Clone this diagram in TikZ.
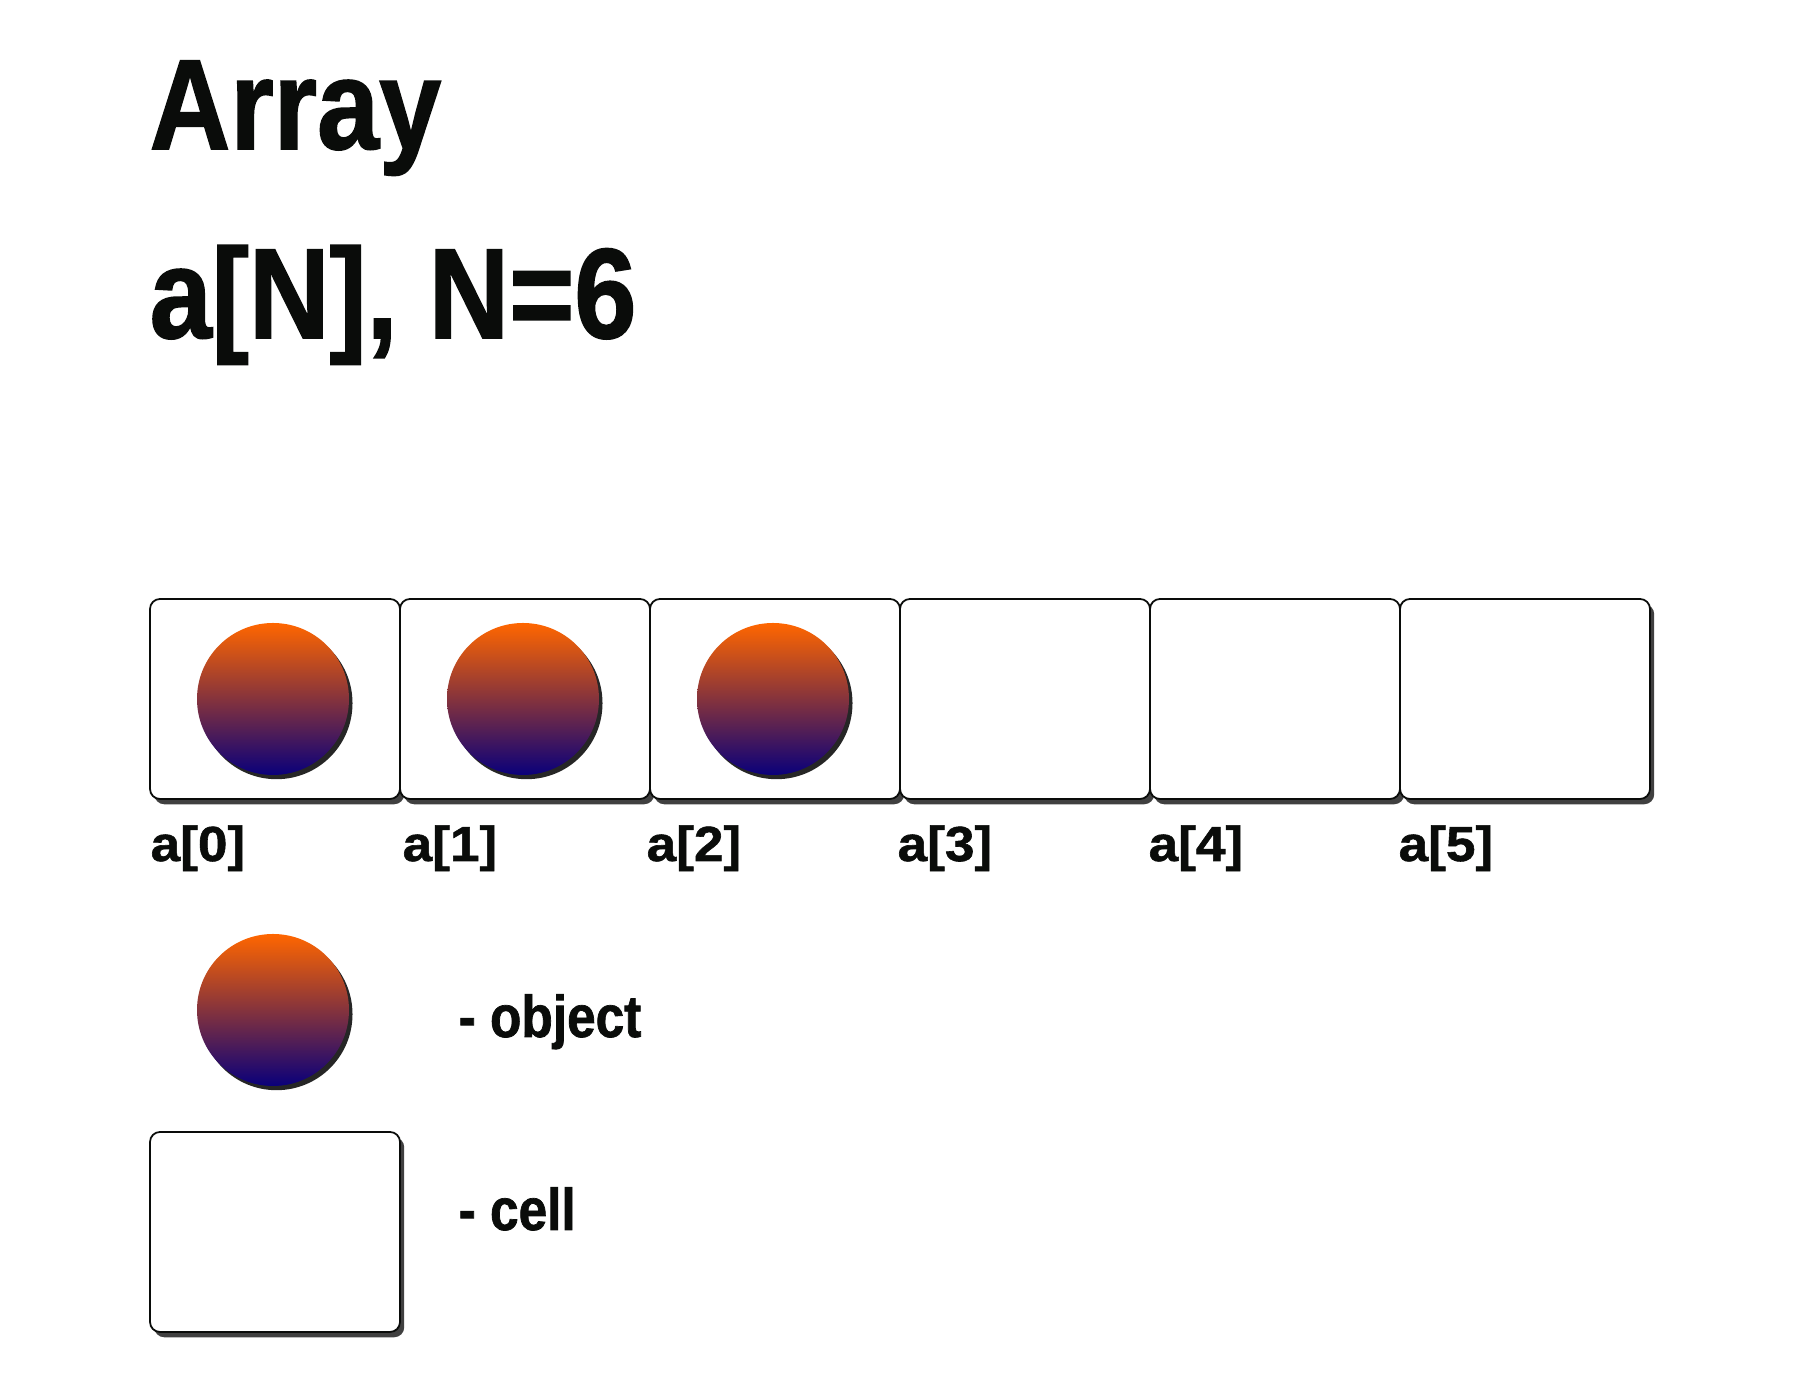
\documentclass[tikz,border=0pt]{standalone}
\usepackage{fontspec}
\usepackage{tikz}
\usetikzlibrary{shadows,positioning}
\newfontfamily\headfont[FakeStretch=0.87,BoldFeatures={FakeBold=1.2}]{Liberation Sans}
\newfontfamily\tagfont[FakeStretch=1.08,BoldFeatures={FakeBold=1.2}]{Liberation Sans}
\definecolor{objTop}{RGB}{255,102,0}
\definecolor{objMid}{RGB}{122,40,86}
\definecolor{objBot}{RGB}{10,0,122}
\definecolor{ink}{RGB}{10,12,10}

\begin{document}
\begin{tikzpicture}[
  cell/.style={rectangle, rounded corners=1mm, draw=ink, line width=0.5pt, fill=white,
               minimum width=25mm, minimum height=20mm, inner sep=0pt, outer sep=0pt,
               drop shadow={shadow xshift=1.2pt, shadow yshift=-1.5pt, opacity=0.75, fill=black}},
  obj/.style={circle, minimum size=15.2mm, inner sep=0pt,
              top color=objTop, middle color=objMid, bottom color=objBot,
              drop shadow={shadow xshift=1pt, shadow yshift=-1.2pt, opacity=0.85, fill=black}},
  ttl/.style={anchor=base west, inner sep=0pt, text=ink, font=\headfont\bfseries\fontsize{36.5}{40}\selectfont},
  idx/.style={anchor=base west, inner sep=0pt, text=ink, font=\tagfont\bfseries\fontsize{14}{16}\selectfont},
  leg/.style={anchor=base west, inner sep=0pt, text=ink, font=\headfont\bfseries\fontsize{16.8}{18}\selectfont}]
  \useasboundingbox (0,0) rectangle (18,14);
  % title
  \node[ttl] (title) at (1.49,12.51) {Array};
  \node[ttl] (decl)  at (1.49,10.62) {a[N], N=6};
  % the array
  \node[cell] (c0) at (2.75,7.01)  {};
  \node[cell] (c1) at (5.25,7.01)  {};
  \node[cell] (c2) at (7.75,7.01)  {};
  \node[cell] (c3) at (10.25,7.01) {};
  \node[cell] (c4) at (12.75,7.01) {};
  \node[cell] (c5) at (15.25,7.01) {};
  \node[obj] (o0) at (2.73,7.01) {};
  \node[obj] (o1) at (5.23,7.01) {};
  \node[obj] (o2) at (7.73,7.01) {};
  % indices
  \node[idx] (i0) at (1.50,5.39)  {a[0]};
  \node[idx] (i1) at (4.02,5.39)  {a[1]};
  \node[idx] (i2) at (6.46,5.39)  {a[2]};
  \node[idx] (i3) at (8.97,5.39)  {a[3]};
  \node[idx] (i4) at (11.48,5.39) {a[4]};
  \node[idx] (i5) at (13.98,5.39) {a[5]};
  % legend
  \node[obj]  (lo) at (2.73,3.90) {};
  \node[cell] (lc) at (2.75,1.68) {};
  \node[leg] (lot) at (4.58,3.63) {- object};
  \node[leg] (lct) at (4.58,1.70) {- cell};
\end{tikzpicture}
\end{document}
